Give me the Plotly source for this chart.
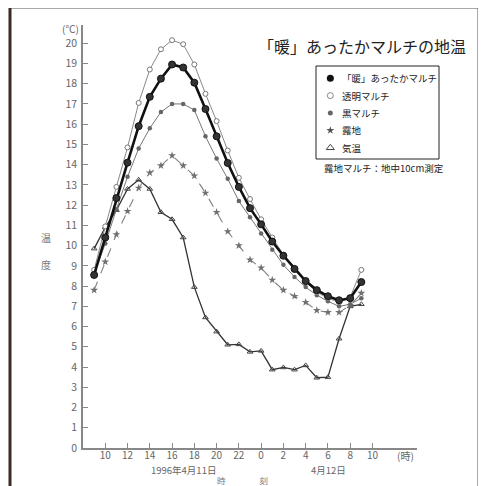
import plotly.graph_objects as go

hours = list(range(9, 34))
warm = [8.55, 10.4, 12.35, 14.1, 15.9, 17.35, 18.25, 18.95, 18.8, 18.05, 16.75, 15.4, 14.08,
        12.9, 11.85, 11.05, 10.2, 9.5, 8.85, 8.25, 7.8, 7.5, 7.3, 7.4, 8.2]
clear = [8.8, 10.95, 12.9, 14.85, 17.05, 18.7, 19.7, 20.15, 19.95, 18.95, 17.5, 16.15, 14.7,
         13.35, 12.3, 11.3, 10.4, 9.55, 8.8, 8.2, 7.7, 7.4, 7.2, 7.45, 8.8]
black = [8.6, 10.1, 11.8, 13.4, 14.8, 15.8, 16.6, 17.0, 17.0, 16.7, 15.4, 14.3, 13.3,
         12.2, 11.4, 10.6, 9.8, 9.05, 8.45, 7.95, 7.55, 7.25, 7.0, 7.1, 7.4]
bare = [7.8, 9.2, 10.55, 11.7, 12.85, 13.6, 13.95, 14.45, 13.95, 13.45, 12.6, 11.65, 10.7,
        10.0, 9.3, 8.9, 8.3, 7.8, 7.5, 7.2, 6.8, 6.7, 6.7, 7.05, 7.65]
air = [9.85, 10.9, 11.75, 12.8, 13.25, 12.8, 11.65, 11.3, 10.4, 7.95, 6.45, 5.75, 5.1,
       5.12, 4.75, 4.8, 3.87, 3.98, 3.87, 4.08, 3.47, 3.5, 5.4, 7.0, 7.1]

names = ["「暖」あったかマルチ", "透明マルチ", "黒マルチ", "露地", "気温"]
tick_vals = [10, 12, 14, 16, 18, 20, 22, 24, 26, 28, 30, 32, 34]
tick_text = ["10", "12", "14", "16", "18", "20", "22", "0", "2", "4", "6", "8", "10"]

FONT = "Noto Sans CJK JP"

styles = [
    dict(line=dict(color="#111111", width=2.6),
         marker=dict(symbol="circle", size=7, color="#333333", line=dict(color="#111111", width=1))),
    dict(line=dict(color="#8a8a8a", width=1),
         marker=dict(symbol="circle", size=5, color="white", line=dict(color="#777777", width=1))),
    dict(line=dict(color="#777777", width=1),
         marker=dict(symbol="circle", size=4.5, color="#666666", line=dict(color="#666666", width=0))),
    dict(line=dict(color="#808080", width=1.1, dash="dash"),
         marker=dict(symbol="star", size=6, color="#707070", line=dict(color="#707070", width=0))),
    dict(line=dict(color="#333333", width=1.3),
         marker=dict(symbol="triangle-up-open", size=5, color="#444444", line=dict(width=1))),
]
legend_marks = [
    dict(symbol="circle", size=7, color="#111111"),
    dict(symbol="circle-open", size=6, color="#888888", line=dict(width=1)),
    dict(symbol="circle", size=5, color="#666666"),
    dict(symbol="star", size=6, color="#555555"),
    dict(symbol="triangle-up-open", size=7, color="#444444", line=dict(width=1)),
]

fig = go.Figure()
series = [warm, clear, black, bare, air]
for i in [4, 3, 2, 1, 0]:
    st = styles[i]
    fig.add_trace(go.Scatter(x=hours, y=series[i], mode="lines+markers", name=names[i],
                             line=st["line"], marker=st["marker"], showlegend=False,
                             xaxis="x", yaxis="y"))

# custom legend: one row per series on a small overlay axis (row index as y)
for i in range(5):
    fig.add_trace(go.Scatter(x=[0], y=[i], mode="markers", name=names[i], marker=legend_marks[i],
                             showlegend=False, xaxis="x2", yaxis="y2", hoverinfo="skip",
                             cliponaxis=False))
    fig.add_annotation(text=names[i], x=0.9, y=i, xref="x2", yref="y2", showarrow=False,
                       xanchor="left", yanchor="middle",
                       font=dict(family=FONT, size=9.5, color="#222222"))


# helpers: window pixel -> paper fraction (page body offset of 8 px, zero margins)
def px(x):
    return (x - 8) / 486


def py(y):
    return 1 - (y - 8) / 486


annos = [
    dict(text="「暖」あったかマルチの地温", x=px(362), y=py(46), size=16, color="#222222"),
    dict(text="露地マルチ：地中10cm測定", x=px(384), y=py(168), size=9.5, color="#222222"),
    dict(text="(℃)", x=px(70), y=py(29), size=10, color="#666666"),
    dict(text="温", x=px(46), y=py(238), size=10, color="#777777"),
    dict(text="度", x=px(46), y=py(264), size=10, color="#777777"),
    dict(text="(時)", x=px(405), y=py(455), size=10, color="#666666"),
    dict(text="1996年4月11日", x=px(183), y=py(470), size=9.5, color="#666666"),
    dict(text="4月12日", x=px(328), y=py(470), size=9.5, color="#666666"),
    dict(text="時　　　　刻", x=px(242), y=py(480), size=8.5, color="#777777"),
]
for a in annos:
    fig.add_annotation(text=a["text"], x=a["x"], y=a["y"], xref="paper", yref="paper",
                       showarrow=False, xanchor="center", yanchor="middle",
                       font=dict(family=FONT, size=a["size"], color=a["color"]))

# legend box
fig.add_shape(type="rect", xref="paper", yref="paper", x0=px(316), x1=px(439), y0=py(159), y1=py(66),
              line=dict(color="#222222", width=1), fillcolor="rgba(0,0,0,0)")
# frame around the figure
fig.add_shape(type="rect", xref="paper", yref="paper", x0=px(10), x1=px(478), y0=py(493), y1=py(8),
              line=dict(color="#555555", width=1))
fig.add_shape(type="line", xref="paper", yref="paper", x0=px(10), x1=px(10), y0=py(493), y1=py(8),
              line=dict(color="#3a2a25", width=3))

fig.update_layout(
    width=486, height=486,
    margin=dict(l=0, r=0, t=0, b=0),
    paper_bgcolor="white", plot_bgcolor="white",
    font=dict(family=FONT, color="#666666"),
    showlegend=False,
    xaxis=dict(domain=[px(83), px(417)], range=[8, 38], showline=True, linecolor="#888888",
               linewidth=1.5, ticks="inside", ticklen=5, tickcolor="#888888", tickvals=tick_vals,
               ticktext=tick_text, showgrid=False, zeroline=False, automargin=False,
               ticklabelstandoff=-3,
               tickfont=dict(family=FONT, size=10, color="#666666")),
    yaxis=dict(domain=[py(448), py(25)], range=[0, 20.9], showline=True, linecolor="#888888",
               linewidth=1.5, ticks="inside", ticklen=5, tickcolor="#888888", dtick=1,
               showgrid=False, zeroline=False, ticklabelstandoff=2, automargin=False,
               tickfont=dict(family=FONT, size=10.5, color="#666666")),
    xaxis2=dict(domain=[px(324), px(436)], range=[-0.6, 10], visible=False, fixedrange=True),
    yaxis2=dict(domain=[py(153), py(73)], range=[4.3, -0.3], visible=False, fixedrange=True,
                anchor="x2"),
)

fig.write_html("out.html")
